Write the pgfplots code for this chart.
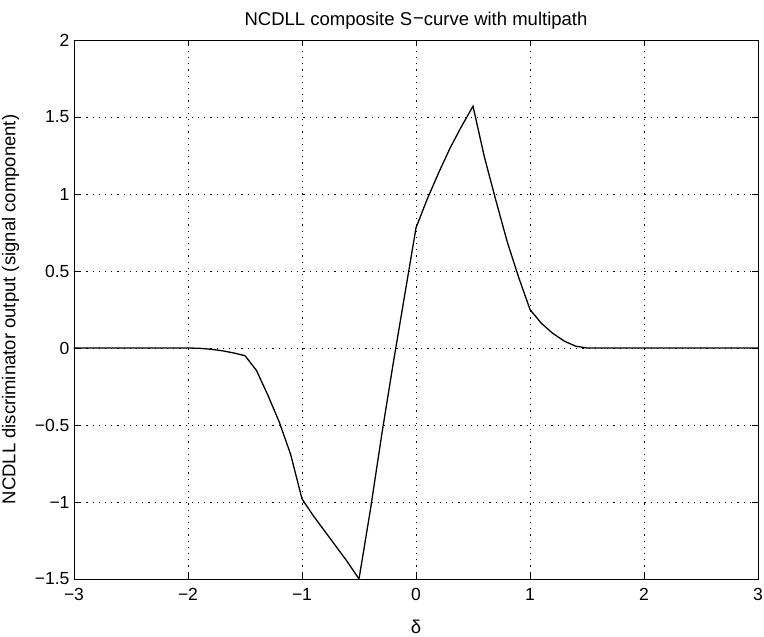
\documentclass[border=0pt]{standalone}
\usepackage{pgfplots}
\pgfplotsset{compat=1.18}
\usepackage{fontspec}
\setmainfont{Liberation Sans}
\begin{document}
\begin{tikzpicture}
\begin{axis}[
  scale only axis,
  width=684bp, height=539bp,
  xmin=-3, xmax=3, ymin=-1.5, ymax=2,
  xtick={-3,-2,-1,0,1,2,3},
  xticklabels={−3,−2,−1,0,1,2,3},
  ytick={-1.5,-1,-0.5,0,0.5,1,1.5,2},
  yticklabels={−1.5,−1,−0.5,0,0.5,1,1.5,2},
  tick align=inside,
  major tick length=6bp,
  tick style={black, line width=0.6pt},
  axis line style={black, line width=0.8pt},
  grid=major,
  grid style={black, dash pattern=on 1.2bp off 5bp, line width=0.7pt},
  tick label style={font=\fontsize{17.5bp}{20bp}\selectfont},
  label style={font=\fontsize{18.5bp}{21bp}\selectfont},
  title style={font=\fontsize{18.5bp}{21bp}\selectfont, yshift=1bp},
  xticklabel style={yshift=-6bp},
  yticklabel style={xshift=-1bp},
  title={NCDLL composite S\kern0.05em\raisebox{0.05em}{−}curve with multipath},
  xlabel={δ},
  xlabel style={yshift=-12bp},
  ylabel={NCDLL discriminator output (signal component)},
  ylabel style={yshift=9bp},
]
\addplot[black, line width=1.3pt] coordinates {
(-3,0) (-2.1,0) (-2,0) (-1.9,-0.002) (-1.8,-0.008) (-1.7,-0.018) (-1.6,-0.032) (-1.5,-0.05)
(-1.4,-0.145) (-1.3,-0.305) (-1.2,-0.48) (-1.1,-0.69) (-1.0,-0.98)
(-0.9,-1.09) (-0.8,-1.19) (-0.7,-1.29) (-0.6,-1.39) (-0.5,-1.5)
(-0.4,-1.05) (-0.3,-0.56) (-0.2,-0.1) (-0.1,0.34) (0,0.78)
(0.1,0.97) (0.2,1.14) (0.3,1.30) (0.4,1.44) (0.5,1.57)
(0.6,1.24) (0.7,0.96) (0.8,0.69) (0.9,0.46) (1.0,0.25)
(1.1,0.16) (1.2,0.095) (1.3,0.045) (1.4,0.012) (1.5,0) (3,0)
};
\end{axis}
\pgfresetboundingbox
\path ([shift={(-74bp,-58bp)}]current axis.south west) rectangle ([shift={(6bp,40bp)}]current axis.north east);
\end{tikzpicture}
\end{document}
